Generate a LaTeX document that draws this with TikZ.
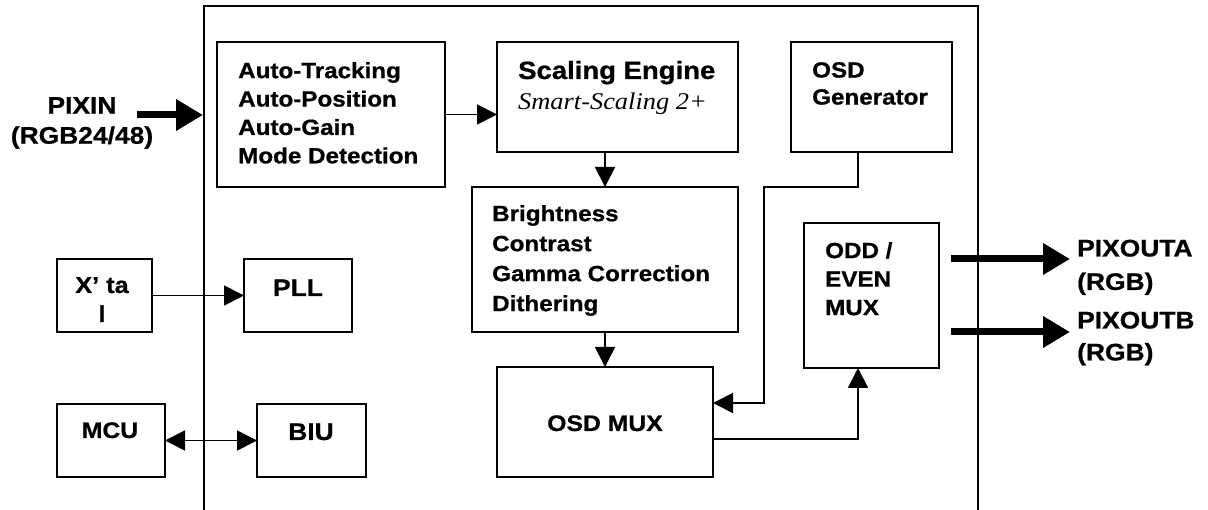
\documentclass[tikz,border=0pt]{standalone}
\usepackage{fontspec}
\setmainfont{Liberation Sans}[FakeStretch=1.1, BoldFeatures={FakeBold=0.8}]
\newfontfamily\italicserif{Liberation Serif}[FakeStretch=1.1]
\usetikzlibrary{arrows.meta}

\tikzset{
  block/.style={draw, line width=1.8pt, inner sep=0pt, outer sep=0pt, anchor=north west},
  chipframe/.style={draw, line width=1.5pt},
  blocktext/.style={font=\bfseries\fontsize{22}{28.4}\selectfont, inner sep=0pt, align=left, anchor=north west},
  tag/.style={font=\bfseries\fontsize{#1}{#1}\selectfont, inner sep=0pt, anchor=base},
  wire/.style={line width=1.8pt, -{Triangle[length=20pt,width=20pt]}},
  duplex/.style={line width=1.8pt, {Triangle[length=20pt,width=20pt]}-{Triangle[length=20pt,width=20pt]}},
  bus/.style={line width=7pt, -{Triangle[length=27pt,width=30pt]}},
  portlabel/.style={font=\bfseries\fontsize{24}{#1}\selectfont, inner sep=0pt},
}

\begin{document}
\begin{tikzpicture}[x=1pt,y=-1pt]
\useasboundingbox (0,0) rectangle (1208,510);

% chip outline (open at the bottom)
\draw[chipframe] (204,512) |- (978,6) -- (978,512);

% processing blocks
\node[block, minimum width=228pt, minimum height=145pt] (auto)    at (217,42)  {};
\node[block, minimum width=241pt, minimum height=110pt] (scaling) at (497,42)  {};
\node[block, minimum width=161pt, minimum height=110pt] (osdgen)  at (791,42)  {};
\node[block, minimum width=266pt, minimum height=145pt] (bright)  at (472,187) {};
\node[block, minimum width=216pt, minimum height=110pt] (osdmux)  at (497,367) {};
\node[block, minimum width=135pt, minimum height=145pt] (oddmux)  at (804,223) {};
\node[block, minimum width=95pt,  minimum height=73pt]  (xtal)    at (57,259)  {};
\node[block, minimum width=108pt, minimum height=73pt]  (pll)     at (244,259) {};
\node[block, minimum width=108pt, minimum height=73pt]  (mcu)     at (57,404)  {};
\node[block, minimum width=109pt, minimum height=73pt]  (biu)     at (257,404) {};

% block captions
\node[blocktext] (autotxt) at (238,62) {Auto-Tracking\\Auto-Position\\Auto-Gain\\Mode Detection};
\node[tag=25, anchor=base west] (scaltxt) at (518,79) {Scaling Engine};
\node[inner sep=0pt, anchor=base west, font=\italicserif\itshape\fontsize{24}{24}\selectfont] (smarttxt) at (518,110) {Smart-Scaling 2+};
\node[blocktext, font=\bfseries\fontsize{22}{27}\selectfont] (osdgentxt) at (812,62) {OSD\\Generator};
\node[blocktext, font=\bfseries\fontsize{22}{30}\selectfont] (brighttxt) at (492,205) {Brightness\\Contrast\\Gamma Correction\\Dithering};
\node[blocktext, font=\bfseries\fontsize{22}{28.5}\selectfont] (oddtxt) at (825,242) {ODD /\\EVEN\\MUX};
\node[tag=22.5] (osdmuxtxt) at (605,431) {OSD MUX};
\node[tag=23] (xtaltxt1) at (102,293) {X’ ta};
\node[tag=23] (xtaltxt2) at (102,322) {l};
\node[tag=24] (plltxt) at (298,296) {PLL};
\node[tag=22.5] (mcutxt) at (110,438) {MCU};
\node[tag=24] (biutxt) at (311,440) {BIU};

% external port labels
\node[portlabel=30, align=center, anchor=north] (pixin) at (82,97) {PIXIN\\(RGB24/48)};
\node[portlabel=33.5, align=left, anchor=north west] (pixouta) at (1077,239.5) {PIXOUTA\\(RGB)};
\node[portlabel=32, align=left, anchor=north west] (pixoutb) at (1077,311.5) {PIXOUTB\\(RGB)};

% bus ends
\coordinate (pixinTail)  at (137,115);
\coordinate (pixinHead)  at (203,115);
\coordinate (outATail)   at (951,259);
\coordinate (outAHead)   at (1070,259);
\coordinate (outBTail)   at (951,332);
\coordinate (outBHead)   at (1070,332);
\coordinate (osdJog)     at (764,187);

% wide pixel buses
\draw[bus] (pixinTail) -- (pixinHead);
\draw[bus] (outATail) -- (outAHead);
\draw[bus] (outBTail) -- (outBHead);

% internal data paths
\draw[wire] (auto.east) -- (auto.east -| scaling.west);
\draw[wire] (bright.north |- scaling.south) -- (bright.north);
\draw[wire] (bright.south) -- (osdmux.north);
\draw[wire] ([xshift=-13.5pt]osdgen.south) |- (osdJog) |- ([yshift=19pt]osdmux.east);
\draw[wire] ([yshift=-17pt]osdmux.east) -| ([xshift=-13.5pt]oddmux.south);
\draw[wire] (xtal.east) -- (pll.west);
\draw[duplex] (mcu.east) -- (biu.west);
\end{tikzpicture}
\end{document}
